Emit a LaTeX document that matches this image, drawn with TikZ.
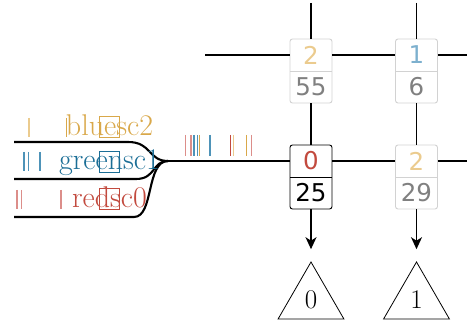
\documentclass[tikz,border=0pt]{standalone}
\usepackage{fontspec}
\newfontfamily\numfont{DejaVu Sans}
\usetikzlibrary{arrows.meta,shapes.geometric}

\definecolor{gold}{HTML}{D9A84A}
\definecolor{goldpale}{HTML}{EBCB8E}
\definecolor{teal}{HTML}{1B6E96}
\definecolor{tealmid}{HTML}{4E93B8}
\definecolor{tealpale}{HTML}{7DB0CE}
\definecolor{rust}{HTML}{C24A3E}
\definecolor{rustpale}{HTML}{DC8E8A}
\definecolor{cellgrey}{HTML}{D2D2D2}
\definecolor{numgrey}{HTML}{808080}

\begin{document}
\begin{tikzpicture}[x=1pt,y=-1pt,
  wire/.style={line width=1.6pt},
  heavywire/.style={line width=2.5pt},
  fanwire/.style={line width=2.1pt},
  cell/.style={draw=#1,line width=0.9pt,rounded corners=2.5pt,
    minimum width=42pt,minimum height=64pt,inner sep=0pt,
    path picture={\draw[#1,line width=0.9pt]
      (path picture bounding box.west) -- (path picture bounding box.east);}},
  digit/.style={font=\numfont\fontsize{24.5}{27}\selectfont,inner sep=0pt},
  lbl/.style={font=\fontsize{30}{33}\selectfont,inner sep=0pt,anchor=base},
  markbox/.style={draw=#1,line width=0.8pt,minimum width=20.5pt,
    minimum height=21pt,inner sep=0pt},
  tick/.style={line width=1.3pt},
  leaf/.style={draw,line width=0.8pt,regular polygon,regular polygon sides=3,
    minimum size=76pt,inner sep=0pt,font=\fontsize{27}{30}\selectfont},
  tip/.style={-{Stealth[length=12pt,width=11pt,inset=3.5pt]}}]

\useasboundingbox (0,0) rectangle (467,329);

% grid cells
\node[cell=cellgrey] (t0) at (311,71) {};
\node[cell=cellgrey] (t1) at (416.5,71) {};
\node[cell=black]    (b0) at (311,177) {};
\node[cell=cellgrey] (b1) at (416.5,177) {};

\node[digit,goldpale] (t0k) at (311,55) {2};
\node[digit,numgrey]  (t0v) at (311,87) {55};
\node[digit,tealpale] (t1k) at (416.5,55) {1};
\node[digit,numgrey]  (t1v) at (416.5,87) {6};
\node[digit,rust]     (b0k) at (311,161) {0};
\node[digit,black]    (b0v) at (311,193) {25};
\node[digit,goldpale] (b1k) at (416.5,161) {2};
\node[digit,numgrey]  (b1v) at (416.5,193) {29};

% leaves
\node[leaf] (leaf0) at (311,300) {0};
\node[leaf] (leaf1) at (416.5,300) {1};

% ports on the cells (row lines cross the upper halves)
\coordinate (t0w) at ([yshift=16pt]t0.west);
\coordinate (t0e) at ([yshift=16pt]t0.east);
\coordinate (t1w) at ([yshift=16pt]t1.west);
\coordinate (t1e) at ([yshift=16pt]t1.east);
\coordinate (b0w) at ([yshift=16pt]b0.west);
\coordinate (b0e) at ([yshift=16pt]b0.east);
\coordinate (b1w) at ([yshift=16pt]b1.west);
\coordinate (b1e) at ([yshift=16pt]b1.east);

% free ends
\coordinate (topin)  at (205,55);
\coordinate (topmk)  at (258,55);
\coordinate (topmk2) at (268,55);
\coordinate (topout) at (467,55);
\coordinate (botout) at (467,161);
\coordinate (c0top)  at (311,3);
\coordinate (c1top)  at (416.5,3);
\coordinate (join)   at (168,161);
\coordinate (botseg) at (205,161);
\coordinate (botmk)  at (258,161);
\coordinate (botmk2) at (268,161);
\coordinate (fanA) at (14,142);
\coordinate (fanB) at (14,179);
\coordinate (fanC) at (14,217);

% row wires
\draw[wire] (topin) -- (t0w);
\draw[heavywire] (topmk) -- (topmk2);
\draw[wire] (t0e) -- (t1w);
\draw[wire] (t1e) -- (topout);
\draw[heavywire] (join) -- (botseg);
\draw[wire] (botseg) -- (b0w);
\draw[heavywire] (botmk) -- (botmk2);
\draw[wire] (b0e) -- (b1w);
\draw[wire] (b1e) -- (botout);

% column wires
\draw[wire] (c0top) -- (t0.north);
\draw[wire] (t0.south) -- (b0.north);
\draw[wire,tip] (b0.south) -- ([yshift=12pt]leaf0.corner 1);
\draw[wire] (c1top) -- (t1.north);
\draw[wire] (t1.south) -- (b1.north);
\draw[wire,tip] (b1.south) -- ([yshift=12pt]leaf1.corner 1);

% incoming fan
\draw[fanwire] (fanA) -- (128,142) .. controls (152,142) and (148,161) .. (join);
\draw[fanwire] (fanB) -- (136,179) .. controls (156,179) and (152,161) .. (join);
\draw[fanwire] (fanC) -- (134,217) .. controls (154,217) and (146,161) .. (join);

% strand labels with their markers
\node[lbl,gold] (lblue)  at (109.5,136) {bluesc2};
\node[lbl,teal] (lgreen) at (109.5,170) {greensc1};
\node[lbl,rust] (lred)   at (109.5,208) {redsc0};
\node[markbox=gold] (mblue)  at (109.5,126.5) {};
\node[markbox=teal] (mgreen) at (109.5,161.5) {};
\node[markbox=rust] (mred)   at (109.5,198.5) {};

% ticks beside the labels
\draw[tick,goldpale] (29,118) -- (29,137);
\draw[tick,gold]     (66.5,118) -- (66.5,137);
\draw[tick,tealmid]  (24,152) -- (24,171);
\draw[tick,tealmid]  (28.5,152) -- (28.5,171);
\draw[tick,tealmid]  (40,152) -- (40,171);
\draw[tick,rustpale] (17,190) -- (17,209);
\draw[tick,rustpale] (21.5,190) -- (21.5,209);
\draw[tick,rustpale] (61,190) -- (61,209);

% ticks over the merged wire
\draw[tick,rustpale] (185.7,135) -- (185.7,156);
\draw[tick,rustpale] (191,135) -- (191,156);
\draw[tick,tealmid]  (194,135) -- (194,156);
\draw[tick,tealmid]  (197.6,135) -- (197.6,156);
\draw[tick,gold]     (199.2,135) -- (199.2,156);
\draw[tick,tealmid]  (210,135) -- (210,156);
\draw[tick,rust]     (230.3,135) -- (230.3,156);
\draw[tick,goldpale] (233.3,135) -- (233.3,156);
\draw[tick,gold]     (246.3,135) -- (246.3,156);
\draw[tick,rustpale] (251.7,135) -- (251.7,156);
\end{tikzpicture}
\end{document}
